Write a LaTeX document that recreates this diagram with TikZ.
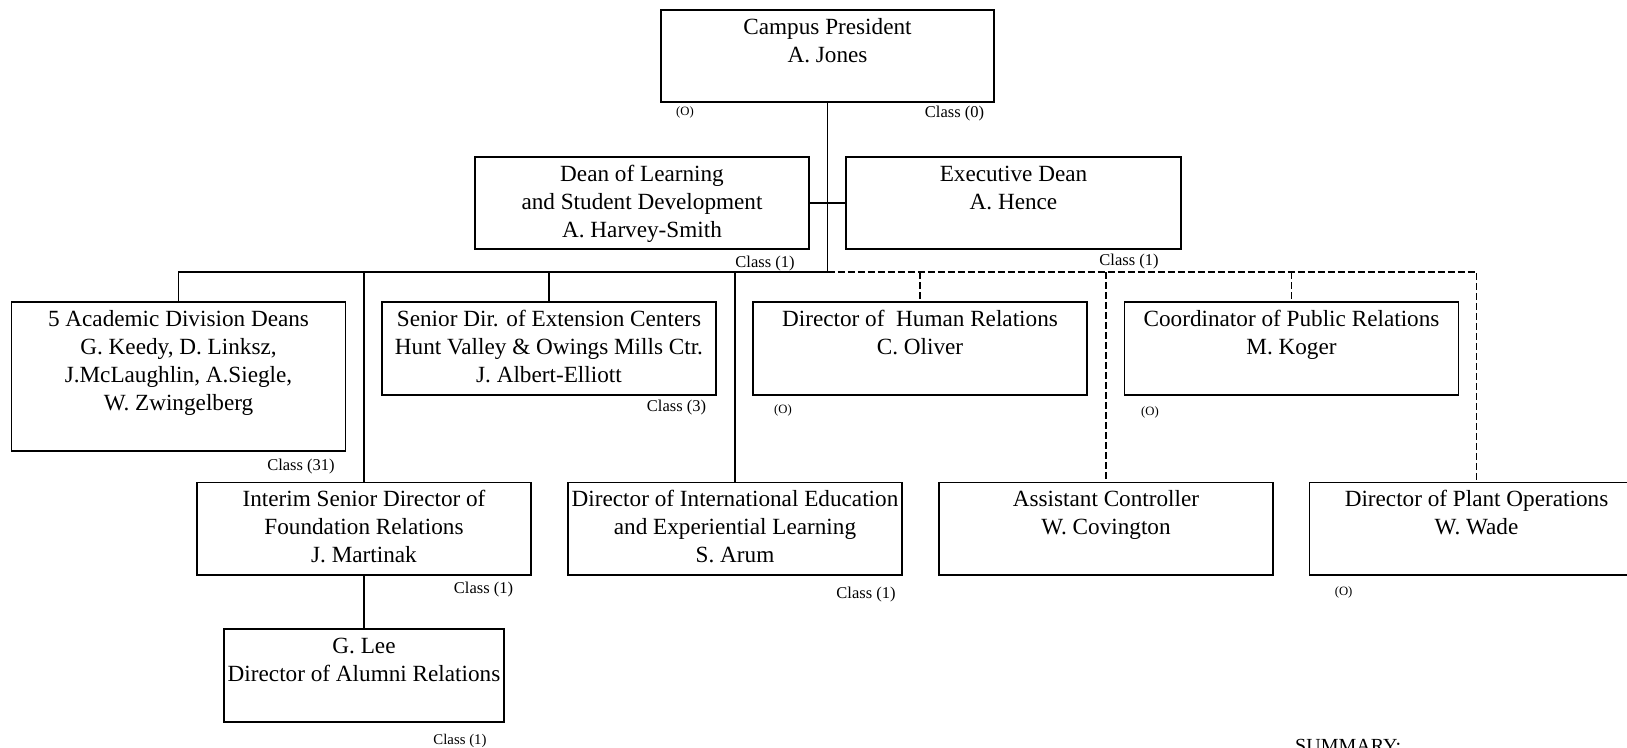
\documentclass[tikz,border=0pt]{standalone}
\usepackage{fontspec}
\setmainfont{Liberation Serif}
\begin{document}
\begin{tikzpicture}[x=1pt,y=-1pt,
  box/.style={draw, line width=1.3pt, rectangle, minimum width=334pt, minimum height=92pt, inner sep=0pt},
  txt/.style={anchor=north, align=center, inner sep=0pt, font=\fontsize{23.2}{28}\selectfont},
  cls/.style={inner sep=0pt, font=\fontsize{16.5}{18}\selectfont},
  oo/.style={inner sep=0pt, font=\fontsize{12.7}{14}\selectfont},
  conn/.style={line width=1.3pt},
  dconn/.style={line width=1.3pt, dash pattern=on 7pt off 3pt}]
\fill[white] (0,0) rectangle (1627,747);
\useasboundingbox (0,0) rectangle (1627,747);

% boxes
\node[box, minimum width=333pt] (pres) at (827.5,56) {};
\node[box] (dean) at (642,203) {};
\node[box, minimum width=335pt] (exec) at (1013.5,203) {};
\node[box, minimum height=149pt] (acad) at (178.5,376.5) {};
\node[box, minimum height=93pt] (sen) at (549,348.5) {};
\node[box, minimum height=93pt] (hr) at (920,348.5) {};
\node[box, minimum height=93pt] (pr) at (1291.5,348.5) {};
\node[box, minimum height=92.5pt] (interim) at (364,528.75) {};
\node[box, minimum height=92.5pt] (intl) at (735,528.75) {};
\node[box, minimum height=92.5pt] (asst) at (1106,528.75) {};
\node[box, minimum height=92.5pt] (plant) at (1476.5,528.75) {};
\node[box, minimum width=280pt, minimum height=93pt] (lee) at (364,675.5) {};

% box texts
\node[txt] (tpres) at ([yshift=-5pt]pres.north) {\strut Campus President\\A. Jones};
\node[txt] (tdean) at ([yshift=-5pt]dean.north) {\strut Dean of Learning\\and Student Development\\A. Harvey-Smith};
\node[txt] (texec) at ([yshift=-5pt]exec.north) {\strut Executive Dean\\A. Hence};
\node[txt] (tacad) at ([yshift=-5pt]acad.north) {\strut 5 Academic Division Deans\\G. Keedy, D. Linksz,\\J.McLaughlin, A.Siegle,\\W. Zwingelberg};
\node[txt] (tsen) at ([yshift=-5pt]sen.north) {\strut Senior Dir. of Extension Centers\\Hunt Valley \& Owings Mills Ctr.\\J. Albert-Elliott};
\node[txt] (thr) at ([yshift=-5pt]hr.north) {\strut Director of\ \ Human Relations\\C. Oliver};
\node[txt] (tpr) at ([yshift=-5pt]pr.north) {\strut Coordinator of Public Relations\\M. Koger};
\node[txt] (tinterim) at ([yshift=-5pt]interim.north) {\strut Interim Senior Director of\\Foundation Relations\\J. Martinak};
\node[txt] (tintl) at ([yshift=-5pt]intl.north) {\strut Director of International Education\\and Experiential Learning\\S. Arum};
\node[txt] (tasst) at ([yshift=-5pt]asst.north) {\strut Assistant Controller\\W. Covington};
\node[txt] (tplant) at ([yshift=-5pt]plant.north) {\strut Director of Plant Operations\\W. Wade};
\node[txt] (tlee) at ([yshift=-5pt]lee.north) {\strut G. Lee\\Director of Alumni Relations};

% small labels
\node[oo] (o1) at (685,112) {(O)};
\node[cls] (c0) at (954.5,114) {Class (0)};
\node[cls] (c1) at (765,263.5) {Class (1)};
\node[cls] (c2) at (1129,261.5) {Class (1)};
\node[cls] (c3) at (301,467) {Class (31)};
\node[cls] (c4) at (676.5,408) {Class (3)};
\node[oo] (o2) at (783,410) {(O)};
\node[oo] (o3) at (1150,412) {(O)};
\node[cls] (c5) at (483.5,589.5) {Class (1)};
\node[cls] (c6) at (866,594.5) {Class (1)};
\node[oo] (o4) at (1343.6,592.5) {(O)};
\node[inner sep=0pt, font=\fontsize{14.8}{17}\selectfont] (c7) at (460,740.5) {Class (1)};
\node[anchor=base west, inner sep=0pt, font=\fontsize{20}{24}\selectfont] (summ) at (1295,752.5) {SUMMARY:};

% connectors
\coordinate (bj) at (827.5,272);
\draw[conn] (pres.south) -- (bj);
\draw[conn] (dean.east) -- (exec.west);
\draw[conn] (bj) -- (bj -| acad.north) -- (acad.north);
\draw[conn] (bj -| interim.north) -- (interim.north);
\draw[conn] (bj -| sen.north) -- (sen.north);
\draw[conn] (bj -| intl.north) -- (intl.north);
\draw[conn] (interim.south) -- (lee.north);
\draw[dconn] (bj) -- (bj -| plant.north) -- (plant.north);
\draw[dconn] (bj -| hr.north) -- (hr.north);
\draw[dconn] (bj -| asst.north) -- (asst.north);
\draw[dconn] (bj -| pr.north) -- (pr.north);
\end{tikzpicture}
\end{document}
